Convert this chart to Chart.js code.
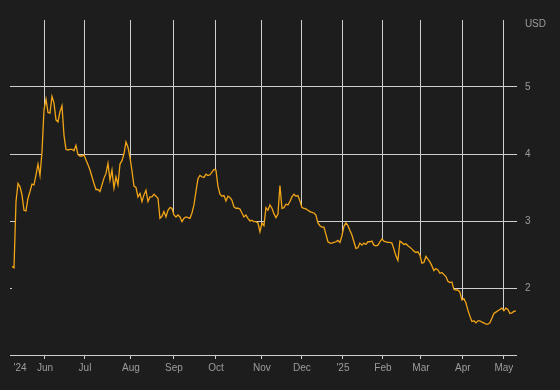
<!DOCTYPE html>
<html>
<head>
<meta charset="utf-8">
<script src="https://cdn.jsdelivr.net/npm/chart.js@4.4.1/dist/chart.umd.min.js"></script>
<style>
  html, body { margin: 0; padding: 0; background: #1d1d1d; }
  #wrap { width: 560px; height: 390px; position: relative; }
</style>
</head>
<body>
<div id="wrap"><canvas id="price-chart"></canvas></div>
<script>
// Daily closes (one per trading day, index 0 = first session in May '24)
const prices = [
  2.32, 2.30, 3.29, 3.56, 3.51, 3.39, 3.16, 3.15, 3.34, 3.44,
  3.55, 3.54, 3.69, 3.85, 3.68, 4.03, 4.66, 4.82, 4.62, 4.61,
  4.86, 4.76, 4.51, 4.48, 4.63, 4.72, 4.28, 4.07, 4.06, 4.07,
  4.07, 4.05, 4.13, 3.99, 3.97, 3.97, 3.99, 3.91, 3.84, 3.76,
  3.66, 3.56, 3.47, 3.47, 3.44, 3.54, 3.64, 3.71, 3.86, 3.61,
  3.76, 3.49, 3.66, 3.54, 3.85, 3.90, 4.00, 4.18, 4.10, 3.95,
  3.75, 3.52, 3.50, 3.36, 3.41, 3.29, 3.39, 3.46, 3.29, 3.36,
  3.36, 3.40, 3.37, 3.34, 3.04, 3.07, 3.14, 3.06, 3.16, 3.20,
  3.19, 3.09, 3.06, 3.09, 3.06, 2.99, 3.04, 3.06, 3.05, 3.04,
  3.12, 3.24, 3.44, 3.63, 3.68, 3.66, 3.65, 3.70, 3.68, 3.69,
  3.73, 3.77, 3.76, 3.52, 3.40, 3.37, 3.38, 3.30, 3.37, 3.35,
  3.31, 3.21, 3.19, 3.19, 3.18, 3.12, 3.06, 3.09, 3.04, 3.00,
  3.01, 2.99, 2.99, 2.97, 2.84, 2.97, 2.93, 3.20, 3.16, 3.24,
  3.19, 3.11, 3.05, 3.10, 3.53, 3.19, 3.20, 3.25, 3.24, 3.29,
  3.36, 3.40, 3.37, 3.38, 3.30, 3.20, 3.19, 3.18, 3.16, 3.14,
  3.13, 3.12, 3.09, 2.97, 2.93, 2.91, 2.91, 2.80, 2.69, 2.67,
  2.67, 2.68, 2.69, 2.71, 2.68, 2.78, 2.92, 2.97, 2.93, 2.86,
  2.79, 2.69, 2.59, 2.60, 2.67, 2.64, 2.67, 2.65, 2.69, 2.69,
  2.70, 2.64, 2.63, 2.64, 2.69, 2.73, 2.70, 2.69, 2.68, 2.68,
  2.67, 2.58, 2.48, 2.41, 2.70, 2.68, 2.65, 2.66, 2.63, 2.61,
  2.58, 2.55, 2.53, 2.54, 2.49, 2.37, 2.38, 2.47, 2.43, 2.39,
  2.33, 2.26, 2.29, 2.27, 2.22, 2.23, 2.20, 2.17, 2.10, 2.08,
  2.09, 1.98, 1.97, 1.97, 1.94, 1.82, 1.84, 1.78, 1.67, 1.58,
  1.50, 1.51, 1.48, 1.51, 1.51, 1.49, 1.48, 1.46, 1.46, 1.48,
  1.55, 1.62, 1.64, 1.66, 1.68, 1.70, 1.66, 1.70, 1.68, 1.62,
  1.63, 1.65, 1.66
];

// Month start positions on the trading-day axis and their labels
const monthTicks  = [4, 16.5, 36.5, 59.5, 81, 102, 125, 145, 165.5, 185.5, 204.5, 225.5, 246];
const monthLabels = ["'24", "Jun", "Jul", "Aug", "Sep", "Oct", "Nov", "Dec", "'25", "Feb", "Mar", "Apr", "May"];

// Price axis ticks; the top one carries the unit
const priceTicks  = [2, 3, 4, 5, 5.94];
const priceLabels = ["2", "3", "4", "5", "USD"];

const bgColor = "#1d1d1d";
const gridColor = "#cfcfcf";
const labelColor = "#9c9c9c";
const lineColor = "#f2a516";

function renderPriceChart() {
  const ctx = document.getElementById("price-chart").getContext("2d");
  const points = prices.map((p, i) => ({ x: i, y: p }));

  new Chart(ctx, {
    type: "line",
    data: {
      datasets: [{
        data: points,
        borderColor: lineColor,
        borderWidth: 1.3,
        pointRadius: 0,
        tension: 0,
        // fill under the line with the page colour, so grid lines stop at the line
        fill: "start",
        backgroundColor: bgColor,
      }],
    },
    options: {
      responsive: true,
      maintainAspectRatio: false,
      animation: false,
      layout: { padding: { top: 20, left: 10, right: 6, bottom: 13 } },
      plugins: {
        legend: { display: false },
        tooltip: { enabled: false },
      },
      scales: {
        x: {
          type: "linear",
          min: -1,
          max: 252.5,
          afterBuildTicks: (axis) => {
            axis.ticks = monthTicks.map((v) => ({ value: v }));
          },
          grid: {
            color: (c) => (c.tick && c.tick.value === monthTicks[0] ? "transparent" : gridColor),
            lineWidth: 1,
            drawTicks: true,
            tickLength: 4,
          },
          border: { display: true, color: gridColor, width: 1 },
          ticks: {
            autoSkip: false,
            maxRotation: 0,
            padding: 3,
            color: labelColor,
            font: { size: 10, family: "'Liberation Sans', Arial, sans-serif" },
            callback: (value) => {
              const k = monthTicks.indexOf(value);
              return k >= 0 ? monthLabels[k] : "";
            },
          },
        },
        y: {
          position: "right",
          min: 1,
          max: 6,
          afterBuildTicks: (axis) => {
            axis.ticks = priceTicks.map((v) => ({ value: v }));
          },
          grid: {
            color: (c) => (c.tick && c.tick.value <= 5 ? gridColor : "transparent"),
            lineWidth: 1,
            drawTicks: false,
          },
          border: { display: false },
          ticks: {
            padding: 8,
            color: labelColor,
            font: { size: 10, family: "'Liberation Sans', Arial, sans-serif" },
            callback: (value) => {
              const k = priceTicks.indexOf(value);
              return k >= 0 ? priceLabels[k] : "";
            },
          },
        },
      },
    },
  });
}

renderPriceChart();
</script>
</body>
</html>
